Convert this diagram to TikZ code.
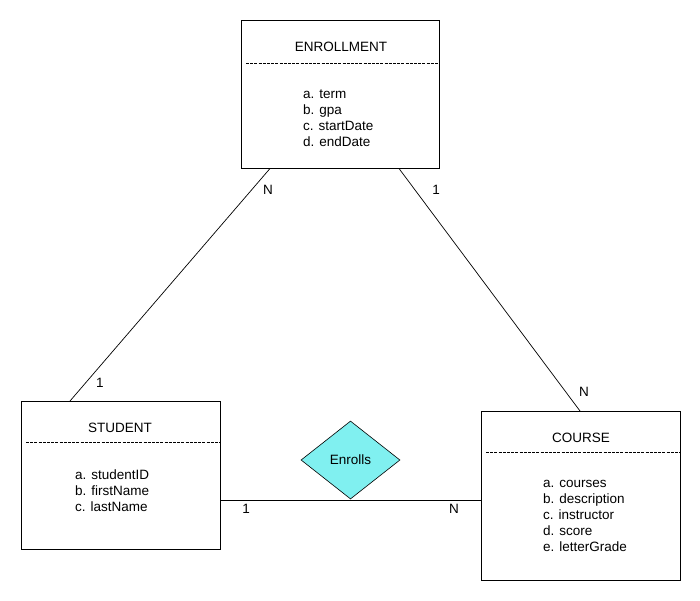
\documentclass[tikz,border=0pt]{standalone}
\usepackage{fontspec}
\setmainfont{Liberation Sans}
\usetikzlibrary{shapes.geometric}
\definecolor{relfill}{RGB}{128,240,240}
\tikzset{
  entbox/.style={draw, line width=0.9pt, inner sep=0pt, anchor=north west},
  sep/.style={line width=0.8pt, dash pattern=on 3pt off 1.2pt},
  ttl/.style={font=\fontsize{13.5}{15}\selectfont, inner sep=0pt},
  attr/.style={font=\fontsize{13.5}{16}\selectfont, align=left, anchor=north west, inner sep=0pt},
  rel/.style={diamond, draw, fill=relfill, line width=0.6pt, minimum width=99pt, minimum height=78pt, inner sep=0pt, font=\fontsize{13.5}{15}\selectfont},
  conn/.style={line width=0.7pt},
  card/.style={font=\fontsize{13.5}{15}\selectfont, inner sep=0pt}
}
\begin{document}
\begin{tikzpicture}[x=1pt,y=-1pt]
\useasboundingbox (0,0) rectangle (700,600);
% Enrollment
\node[entbox, minimum width=198pt, minimum height=148pt] (enr) at (241,20) {};
\node[ttl] (enrT) at (341,47) {ENROLLMENT};
\coordinate (enrL) at (246,63);
\coordinate (enrR) at (439,63);
\draw[sep] (enrL) -- (enrR);
\node[attr] (enrA) at (303,90) {a. term\\b. gpa\\c. startDate\\d. endDate};
% Student
\node[entbox, minimum width=199pt, minimum height=148pt] (stu) at (21,401) {};
\node[ttl] (stuT) at (120,428) {STUDENT};
\coordinate (stuL) at (26,442);
\coordinate (stuR) at (220,442);
\draw[sep] (stuL) -- (stuR);
\node[attr] (stuA) at (75,470) {a. studentID\\b. firstName\\c. lastName};
% Course
\node[entbox, minimum width=199pt, minimum height=169pt] (crs) at (481,411) {};
\node[ttl] (crsT) at (581,438) {COURSE};
\coordinate (crsL) at (486,452);
\coordinate (crsR) at (680,452);
\draw[sep] (crsL) -- (crsR);
\node[attr] (crsA) at (543,480) {a. courses\\b. description\\c. instructor\\d. score\\e. letterGrade};
% Relationship
\node[rel] (enrolls) at (350.5,460) {Enrolls};
% Connectors
\coordinate (e1) at (270,168.5);
\coordinate (s1) at (70,401);
\coordinate (e2) at (399,168.5);
\coordinate (c1) at (580,411);
\coordinate (s2) at (220,500);
\coordinate (c2) at (481,500);
\draw[conn] (e1) -- (s1);
\draw[conn] (e2) -- (c1);
\draw[conn] (s2) -- (c2);
% Cardinalities
\node[card] (n1) at (268,190) {N};
\node[card] (o1) at (436,190) {1};
\node[card] (o2) at (100,383) {1};
\node[card] (n2) at (584,392) {N};
\node[card] (o3) at (246,509) {1};
\node[card] (n3) at (454,509) {N};
\end{tikzpicture}
\end{document}
